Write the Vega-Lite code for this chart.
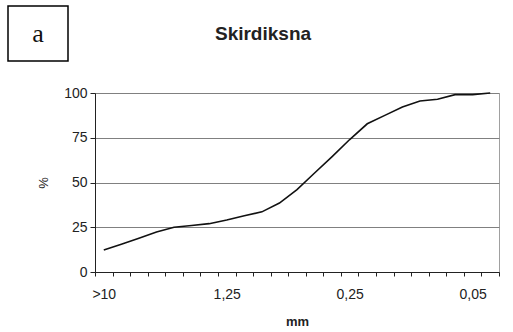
{
  "$schema": "https://vega.github.io/schema/vega-lite/v6.json",
  "padding": {"left": 7, "top": 5, "right": 0, "bottom": 0},
  "background": "white",
  "columns": 2,
  "bounds": "flush",
  "spacing": {"row": 32, "column": 27},
  "datasets": {
    "curve": [
      {"k": 0, "pct": 12.3},
      {"k": 1, "pct": 15.5},
      {"k": 2, "pct": 18.9},
      {"k": 3, "pct": 22.4},
      {"k": 4, "pct": 25.0},
      {"k": 5, "pct": 26.0},
      {"k": 6, "pct": 27.0},
      {"k": 7, "pct": 29.0},
      {"k": 8, "pct": 31.4},
      {"k": 9, "pct": 33.6},
      {"k": 10, "pct": 38.5},
      {"k": 11, "pct": 46.0},
      {"k": 12, "pct": 55.3},
      {"k": 13, "pct": 64.5},
      {"k": 14, "pct": 74.0},
      {"k": 15, "pct": 82.8},
      {"k": 16, "pct": 87.5},
      {"k": 17, "pct": 92.2},
      {"k": 18, "pct": 95.5},
      {"k": 19, "pct": 96.5},
      {"k": 20, "pct": 99.1},
      {"k": 21, "pct": 99.1},
      {"k": 22, "pct": 100}
    ]
  },
  "concat": [
    {
      "width": 60,
      "height": 55,
      "view": {"stroke": "black", "strokeWidth": 1.5},
      "data": {"values": [{"t": "a"}]},
      "mark": {"type": "text", "font": "Liberation Serif", "fontSize": 26, "color": "#111", "baseline": "middle", "align": "center"},
      "encoding": {"text": {"field": "t"}}
    },
    {
      "width": 336,
      "height": 55,
      "view": {"stroke": null},
      "data": {"values": [{"t": "Skirdiksna"}]},
      "mark": {"type": "text", "font": "Liberation Sans", "fontSize": 19, "fontWeight": "bold", "color": "#222", "baseline": "middle", "align": "center"},
      "encoding": {"text": {"field": "t"}}
    },
    {
      "width": 60,
      "height": 179,
      "view": {"stroke": null},
      "data": {"values": []},
      "mark": "text",
      "encoding": {}
    },
    {
      "width": 404,
      "height": 179,
      "view": {"stroke": "#a0a0a0", "strokeWidth": 1},
      "data": {"name": "curve"},
      "mark": {"type": "line", "color": "#111", "strokeWidth": 1.6},
      "encoding": {
        "x": {
          "field": "k",
          "type": "ordinal",
          "bandPosition": 0.5,
          "scale": {"type": "band", "paddingInner": 0, "paddingOuter": 0},
          "axis": {
            "title": "mm",
            "labelAngle": 0,
            "tickBand": "extent",
            "labelExpr": "datum.value == 0 ? '>10' : datum.value == 7 ? '1,25' : datum.value == 14 ? '0,25' : datum.value == 21 ? '0,05' : ''",
            "grid": false,
            "domainColor": "#222",
            "tickColor": "#222",
            "tickSize": 4,
            "labelPadding": 11,
            "labelFont": "Liberation Sans",
            "labelFontSize": 14,
            "labelColor": "#222",
            "titleFont": "Liberation Sans",
            "titleFontSize": 13,
            "titleFontWeight": "bold",
            "titleColor": "#222",
            "titlePadding": 14
          }
        },
        "y": {
          "field": "pct",
          "type": "quantitative",
          "scale": {"domain": [0, 100], "nice": false},
          "axis": {
            "title": "%",
            "values": [0, 25, 50, 75, 100],
            "grid": true,
            "gridColor": "#808080",
            "gridOpacity": 1,
            "domainColor": "#222",
            "tickColor": "#222",
            "tickSize": 5,
            "labelPadding": 3,
            "labelFont": "Liberation Sans",
            "labelFontSize": 14,
            "labelColor": "#222",
            "titleFont": "Liberation Sans",
            "titleFontSize": 13,
            "titleFontWeight": "normal",
            "titleColor": "#222",
            "titlePadding": 13
          }
        }
      }
    }
  ]
}
